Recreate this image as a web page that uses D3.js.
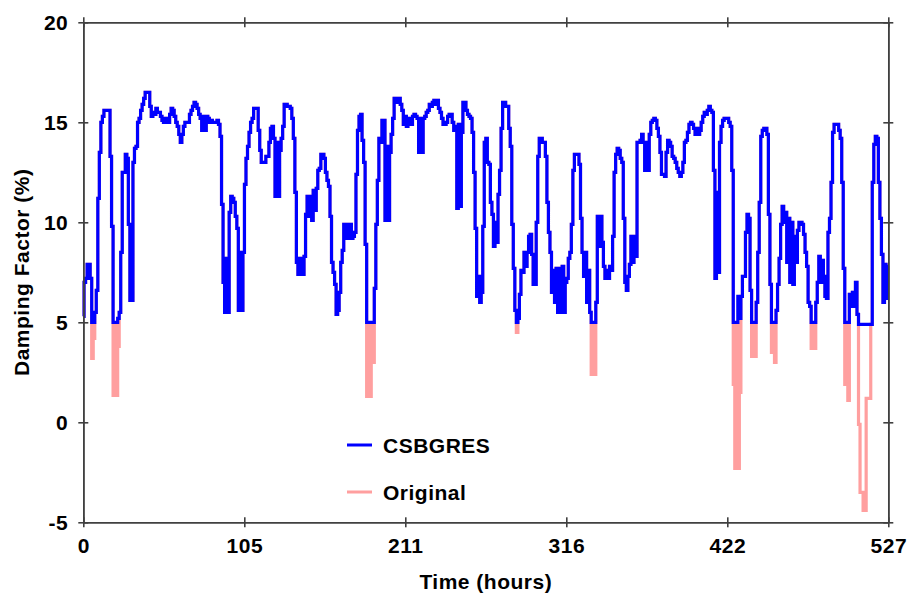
<!DOCTYPE html>
<html><head><meta charset="utf-8">
<script src="https://cdn.jsdelivr.net/npm/d3@7"></script>
<style>
body{margin:0;background:#fff}
text{font-family:Arial,"Liberation Sans",sans-serif;font-weight:bold;fill:#000}
</style>
</head><body>
<svg id="c" width="907" height="597"></svg>
<script>
// CSBGRES damping factor (%), one value per hour, hours 0..527
const csbgres = [
5.3,7.0,7.2,7.9,7.9,7.2,5.0,5.0,5.5,6.6,
11.2,13.5,15.0,15.3,15.6,15.6,15.6,15.6,13.3,9.8,
5.0,5.0,5.0,5.2,5.5,8.5,12.5,12.5,13.4,13.2,
9.9,6.1,6.1,13.0,13.7,13.8,15.0,15.2,15.6,15.9,
16.2,16.5,16.5,16.5,15.8,15.3,15.5,15.4,15.7,15.5,
15.5,15.3,15.1,15.0,15.2,15.1,15.0,15.4,15.7,15.6,
15.3,15.0,14.8,14.4,14.0,14.4,14.8,15.0,15.0,15.0,
15.4,15.6,15.8,16.0,15.9,15.7,15.4,15.2,14.6,15.3,
14.6,15.3,15.2,15.0,15.1,15.0,15.0,15.0,15.1,14.9,
14.3,10.9,7.0,5.5,8.2,5.5,10.5,11.3,11.2,11.0,
10.3,9.7,5.6,8.5,5.6,8.5,11.9,13.2,13.8,14.5,
15.0,15.2,15.7,15.7,15.7,14.6,13.6,13.0,13.0,13.0,
13.3,13.3,14.0,14.7,14.8,14.2,11.3,14.0,11.3,13.6,
14.2,14.8,15.9,15.9,15.8,15.8,15.7,15.2,14.2,11.5,
8.0,7.4,8.2,7.4,7.4,8.3,10.4,11.3,10.3,11.3,
10.1,11.6,10.6,11.7,12.6,12.7,13.4,13.4,13.2,12.5,
12.1,11.8,10.3,8.0,7.5,6.9,5.4,5.6,6.5,8.0,
8.6,9.9,9.2,9.9,9.2,9.9,9.2,9.3,9.5,12.4,
14.6,15.3,15.4,14.1,13.0,8.9,5.0,5.0,5.0,5.0,
5.0,6.7,9.9,12.1,14.2,14.0,15.1,15.1,10.1,13.8,
10.1,13.5,14.4,15.2,16.2,16.1,16.0,16.2,15.9,15.6,
14.9,15.3,14.8,15.2,14.9,14.9,15.3,15.4,15.3,15.2,
13.5,15.2,13.5,15.2,15.3,15.5,15.6,15.9,15.8,16.0,
16.1,15.9,16.1,15.7,15.5,15.2,14.9,14.9,15.0,15.3,
15.4,15.4,15.0,14.6,14.8,10.7,14.9,10.8,14.5,16.0,
16.0,15.6,15.4,15.3,15.2,14.5,12.5,9.7,6.3,7.3,
6.0,6.5,9.8,14.0,14.2,13.0,12.9,11.0,10.4,8.8,
10.0,9.0,11.4,12.6,14.7,16.0,16.0,15.8,15.8,14.7,
13.8,9.9,7.7,5.6,5.0,5.2,6.4,7.6,7.5,8.5,
7.8,8.5,9.3,9.4,8.4,6.9,6.9,10.0,13.3,14.2,
14.2,14.0,14.0,13.3,11.0,9.5,8.5,6.5,7.6,6.0,
7.7,5.5,7.7,5.5,7.8,5.5,7.0,7.2,8.2,8.5,
9.9,12.6,13.4,13.4,13.4,12.9,10.2,8.5,7.3,8.5,
6.0,7.6,5.5,5.0,5.0,5.0,6.0,10.3,8.8,10.3,
9.0,7.8,7.2,7.6,7.2,7.8,7.6,9.3,12.5,13.4,
13.7,13.6,13.2,13.0,10.2,7.0,6.6,7.3,7.9,9.3,
8.0,9.3,8.3,14.0,14.0,14.1,14.4,14.0,12.6,14.0,
12.6,14.4,15.0,15.1,15.2,15.1,14.7,14.3,13.5,12.4,
12.4,12.3,13.5,14.1,14.0,13.8,13.3,13.2,13.0,12.7,
12.5,12.3,12.5,13.0,14.0,14.1,14.5,14.9,15.0,14.9,
14.7,14.4,14.7,14.4,14.6,15.0,15.3,15.5,15.4,15.6,
15.8,15.6,15.5,12.6,7.2,11.5,7.5,14.0,14.8,15.1,
15.2,15.2,15.2,15.0,14.8,12.6,5.0,5.0,5.0,6.3,
5.2,6.3,7.3,7.3,9.5,10.4,10.2,6.6,5.0,5.0,
5.0,6.0,8.5,11.0,14.3,14.6,14.7,14.7,14.4,10.4,
6.9,5.0,5.0,5.0,5.6,6.9,8.2,9.9,10.8,10.0,
10.5,8.0,10.2,7.0,10.0,6.9,9.3,8.0,9.6,10.0,
10.0,9.9,9.4,8.5,7.8,6.0,5.8,5.0,5.0,5.0,
6.0,7.0,8.3,7.0,8.1,7.3,6.3,6.2,9.5,10.2,
12.0,14.5,14.9,14.9,14.9,14.6,14.2,12.0,7.7,5.0,
5.0,5.0,6.4,5.8,6.5,5.8,7.0,5.4,4.9,4.9,
4.9,4.9,4.9,4.9,4.9,4.9,4.9,12.0,13.9,14.3,
14.2,12.0,10.2,8.4,6.0,7.9,6.2,7.8
];
// Original series: hours where it falls below the CSBGRES curve [hour, value];
// at every other hour the two series coincide.
const originalLows = [
[6,3.2],[7,4.2],
[20,1.35],[21,4.9],[22,1.35],[23,3.8],
[186,1.3],[187,4.9],[188,1.3],[189,4.9],[190,3.0],
[284,4.5],
[333,2.4],[334,4.9],[335,2.4],
[426,1.9],[427,-2.3],[428,4.9],[429,-2.3],[430,1.5],
[438,3.3],[439,4.9],[440,3.3],
[451,3.5],[452,4.9],[453,3.0],
[477,3.7],[478,4.9],[479,3.7],
[499,1.9],[500,4.9],[501,1.1],
[508,-0.1],[509,-3.5],[510,-3.5],[511,-4.4],[512,-4.4],[513,1.2],[514,1.2],[515,1.2]
];
const xTicks = [0,105.4,210.8,316.2,421.6,527];
const xTickLabels = ["0","105","211","316","422","527"];
const yTicks = [-5,0,5,10,15,20];
const seriesNames = ["CSBGRES","Original"];
const seriesColors = ["#0000ff","#ff9f9f"];
const xTitle = "Time (hours)";
const yTitle = "Damping Factor (%)";

const L=83.3, R=888.3, T=22.3, B=522.3;
const FS = 21, LS = "0.5px";
const svg = d3.select("#c");
const x = d3.scaleLinear().domain([0,527]).range([L,R]);
const y = d3.scaleLinear().domain([-5,20]).range([B,T]);

const lowMap = new Map(originalLows);
const hours = d3.range(csbgres.length);
const origVals = hours.map(i => lowMap.has(i) ? lowMap.get(i) : csbgres[i]);

const line = d3.line().curve(d3.curveStep).x(d=>x(d[0])).y(d=>y(d[1]));

svg.append("path").datum(hours.map(i=>[i,origVals[i]]))
  .attr("d",line).attr("fill","none").attr("stroke",seriesColors[1])
  .attr("stroke-width",3.2);
svg.append("path").datum(hours.map(i=>[i,csbgres[i]]))
  .attr("d",line).attr("fill","none").attr("stroke",seriesColors[0])
  .attr("stroke-width",3.2);

const axisCol = "#404040";
function styleAxis(g){
  g.selectAll(".domain").attr("stroke",axisCol).attr("stroke-width",1.6);
  g.selectAll(".tick line").attr("stroke",axisCol).attr("stroke-width",1.6);
  g.selectAll("text").attr("font-size",FS).attr("fill","#000").attr("letter-spacing",LS)
   .attr("font-family","Arial, 'Liberation Sans', sans-serif").attr("font-weight","bold");
}
svg.append("g").attr("transform",`translate(${L},0)`)
  .call(d3.axisLeft(y).tickValues(yTicks).tickSizeInner(5).tickSizeOuter(0).tickPadding(10).tickFormat(d=>String(d)))
  .call(styleAxis);
svg.append("g").attr("transform",`translate(${L},0)`)
  .call(d3.axisRight(y).tickValues(yTicks).tickSizeInner(5).tickSizeOuter(0).tickFormat(""))
  .call(styleAxis);
svg.append("g").attr("transform",`translate(${R},0)`)
  .call(d3.axisRight(y).tickValues(yTicks).tickSizeInner(5).tickSizeOuter(0).tickFormat(""))
  .call(styleAxis);
svg.append("g").attr("transform",`translate(${R},0)`)
  .call(d3.axisLeft(y).tickValues(yTicks).tickSizeInner(5).tickSizeOuter(0).tickFormat(""))
  .call(styleAxis);
svg.append("g").attr("transform",`translate(0,${B})`)
  .call(d3.axisBottom(x).tickValues(xTicks).tickSizeInner(5).tickSizeOuter(0).tickPadding(11)
    .tickFormat((d,i)=>xTickLabels[i]))
  .call(styleAxis);
svg.append("g").attr("transform",`translate(0,${B})`)
  .call(d3.axisTop(x).tickValues(xTicks).tickSizeInner(5).tickSizeOuter(0).tickFormat(""))
  .call(styleAxis);
svg.append("g").attr("transform",`translate(0,${T})`)
  .call(d3.axisTop(x).tickValues(xTicks).tickSizeInner(5).tickSizeOuter(0).tickFormat(""))
  .call(styleAxis);
svg.append("g").attr("transform",`translate(0,${T})`)
  .call(d3.axisBottom(x).tickValues(xTicks).tickSizeInner(5).tickSizeOuter(0).tickFormat(""))
  .call(styleAxis);

svg.append("text").attr("x",(L+R)/2).attr("y",589).attr("text-anchor","middle")
  .attr("font-size",FS).attr("letter-spacing",LS).text(xTitle);
svg.append("text").attr("transform",`translate(29,${(T+B)/2}) rotate(-90)`)
  .attr("text-anchor","middle").attr("font-size",FS).attr("letter-spacing",LS).text(yTitle);

const legY = [445, 492];
seriesNames.forEach((n,i)=>{
  svg.append("line").attr("x1",347).attr("x2",372).attr("y1",legY[i]).attr("y2",legY[i])
    .attr("stroke",seriesColors[i]).attr("stroke-width",3);
  svg.append("text").attr("x",383).attr("y",legY[i]+8).attr("font-size",FS)
    .attr("letter-spacing",LS).text(n);
});
</script>
</body></html>
